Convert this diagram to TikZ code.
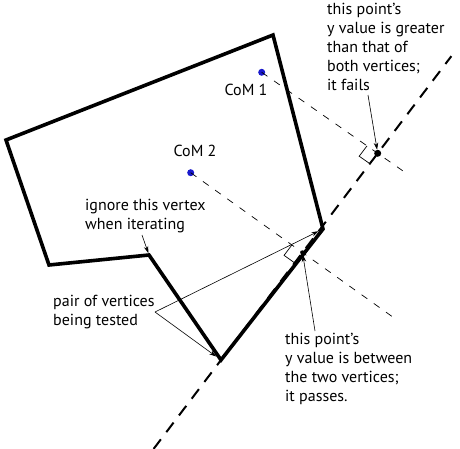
\documentclass[tikz,border=0pt]{standalone}
\usepackage{fontspec}
\setmainfont{PT Sans}
\usepackage{tikz}
\usetikzlibrary{arrows.meta,calc}
\definecolor{comblue}{RGB}{25,25,205}
\tikzset{
  hullline/.style  = {line width=3.6pt,line join=miter},
  sweepline/.style = {line width=2pt,dash pattern=on 12pt off 9pt},
  projline/.style  = {line width=0.7pt,dash pattern=on 7pt off 8pt},
  callout/.style   = {-{Stealth[length=7pt,width=4.5pt]},line width=0.6pt},
  note/.style      = {align=left,inner sep=0pt,anchor=north west,
                      font=\fontsize{16}{19}\selectfont},
  comdot/.style    = {circle,fill=comblue,inner sep=0pt,minimum size=7pt},
  footdot/.style   = {circle,fill=black,inner sep=0pt}
}

\begin{document}
\begin{tikzpicture}[x=1pt,y=-1pt]
  \useasboundingbox (0,0) rectangle (460,448);
  % polygon vertices
  \coordinate (vt)  at (273,35);
  \coordinate (vl)  at (6,140);
  \coordinate (vbl) at (49,265);
  \coordinate (vn)  at (149,255);
  \coordinate (vb)  at (221,360);
  \coordinate (vr)  at (323,229);
  \draw[hullline] (vt) -- (vl) -- (vbl) -- (vn) -- (vb) -- (vr) -- cycle;

  % line through the tested pair
  \coordinate (f1) at (377.7,153.3);
  \coordinate (f2) at ($(vb)!0.52!(f1)$);
  \draw[sweepline] ($(vb)!-0.43!(f1)$) -- ($(vb)!1.47!(f1)$);

  % centres of mass and their projections
  \node[comdot] (com1) at (261.7,72.3) {};
  \node[comdot] (com2) at (190.7,172.7) {};
  \draw[projline] (com1.center) -- ($(com1.center)!1.26!(f1)$);
  \draw[projline] (com2.center) -- ($(com2.center)!1.8!(f2)$);
  \foreach \f/\c in {f1/com1,f2/com2}{
    \coordinate (a) at ($(\f)!13pt!(\c.center)$);
    \coordinate (b) at ($(\f)!13pt!(vb)$);
    \draw[line width=0.7pt] (a) -- ($(a)+(b)-(\f)$) -- (b);
  }
  \node[footdot,minimum size=7pt] (p1) at (f1) {};
  \node[footdot,minimum size=4.5pt] (p2) at (f2) {};

  \node[font=\fontsize{16}{19}\selectfont] (lab1) at (246,90) {CoM 1};
  \node[font=\fontsize{16}{19}\selectfont] (lab2) at (195,151) {CoM 2};

  % notes
  \node[note] (fails) at (327,3)
    {this point’s\\y value is greater\\than that of\\both vertices;\\it fails};
  \node[note] (skip) at (85,199) {ignore this vertex\\when iterating};
  \node[note] (pair) at (53,295) {pair of vertices\\being tested};
  \node[note] (passes) at (285,333)
    {this point’s\\y value is between\\the two vertices;\\it passes.};

  \coordinate (failtail) at (368,95);
  \coordinate (skiptail) at (142,235);
  \coordinate (pairtip)  at (155,312);
  \coordinate (passtail) at (315,331);
  \draw[callout] (failtail) -- (p1);
  \draw[callout,shorten >=2pt] (skiptail) -- (vn);
  \draw[callout,shorten >=5pt] (pairtip) -- (vr);
  \draw[callout,shorten >=6pt] (pairtip) -- (vb);
  \draw[callout] (passtail) -- (p2);
\end{tikzpicture}
\end{document}
